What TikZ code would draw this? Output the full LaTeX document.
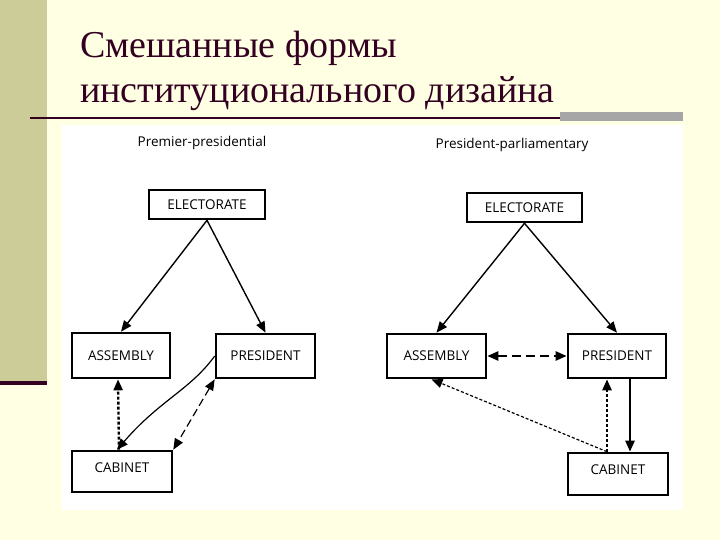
\documentclass[tikz,border=0pt]{standalone}
\usepackage{fontspec}
\setmainfont{Liberation Serif}
\newfontfamily\sansf{Open Sans}
\usetikzlibrary{arrows.meta}
\definecolor{cream}{HTML}{FFFFE3}
\definecolor{olive}{HTML}{CCCC99}
\definecolor{plum}{HTML}{330022}
\begin{document}
\begin{tikzpicture}[x=1pt,y=-1pt,
  box/.style={draw,line width=2.6pt,inner sep=0pt,font=\sansf\fontsize{13.5}{15}\selectfont},
  arr/.style={line width=1.4pt,-{Triangle[length=11pt,width=9pt]}},
  darr/.style={arr,{Triangle[length=11pt,width=9pt]}-{Triangle[length=11pt,width=9pt]}}]
\fill[cream] (0,0) rectangle (720,540);
\useasboundingbox (0,0) rectangle (720,540);
\fill[olive] (0,0) rectangle (47,383);
\fill[plum] (0,381) rectangle (47,385);
\fill[white] (62,125) rectangle (683,510);
\fill[gray!70] (560,112) rectangle (683,121);
\draw[plum,line width=2pt] (30,118) -- (560,118);
\node[anchor=base west,font=\fontsize{38}{42}\selectfont,text=plum,inner sep=0] (t1) at (80,58) {Смешанные формы};
\node[anchor=base west,font=\fontsize{38}{42}\selectfont,text=plum,inner sep=0] (t2) at (80,103) {институционального дизайна};
\node[font=\sansf\fontsize{13.5}{15}\selectfont] (h1) at (202,143) {Premier-presidential};
\node[font=\sansf\fontsize{13.5}{15}\selectfont] (h2) at (512,145) {President-parliamentary};
% left
\node[box,minimum width=116pt,minimum height=29pt] (le) at (207,204.5) {ELECTORATE};
\node[box,minimum width=98pt,minimum height=45pt] (la) at (121,355.5) {ASSEMBLY};
\node[box,minimum width=99pt,minimum height=44pt] (lp) at (265.5,356) {PRESIDENT};
\node[box,minimum width=100pt,minimum height=41pt,text depth=8pt] (lc) at (122,471.5) {CABINET};
\draw[arr] (le.south) -- (la.north);
\draw[arr] (le.south) -- (lp.north);
\draw[arr,densely dashed,line width=2.4pt] ([xshift=-3pt]lc.north) -- ([xshift=-3pt]la.south);
\draw[arr,line width=1.2pt] (lp.west) .. controls (190,390) and (160,400) .. ([xshift=-5pt]lc.north);
\draw[darr,line width=1.2pt,dash pattern=on 8pt off 4pt] (lp.south west) -- (lc.north east);
% right
\node[box,minimum width=115pt,minimum height=29pt] (re) at (524.5,207.5) {ELECTORATE};
\node[box,minimum width=99pt,minimum height=44pt] (ra) at (436.5,356) {ASSEMBLY};
\node[box,minimum width=98pt,minimum height=44pt] (rp) at (617,356) {PRESIDENT};
\node[box,minimum width=100pt,minimum height=42pt,text depth=8pt] (rc) at (618,474) {CABINET};
\draw[arr] (re.south) -- (ra.north);
\draw[arr] (re.south) -- (rp.north);
\draw[darr,line width=2.4pt,dash pattern=on 9pt off 5pt] (ra.east) -- (rp.west);
\coordinate (rcn) at ([xshift=-11pt]rc.north);
\draw[arr,densely dashed,line width=1.2pt] (rcn) -- ([xshift=-5pt]ra.south);
\draw[arr,densely dashed,line width=2.4pt] (rcn) -- ([xshift=-10pt]rp.south);
\draw[arr,line width=2.4pt] ([xshift=13pt]rp.south) -- ([xshift=12pt]rc.north);
\end{tikzpicture}
\end{document}
